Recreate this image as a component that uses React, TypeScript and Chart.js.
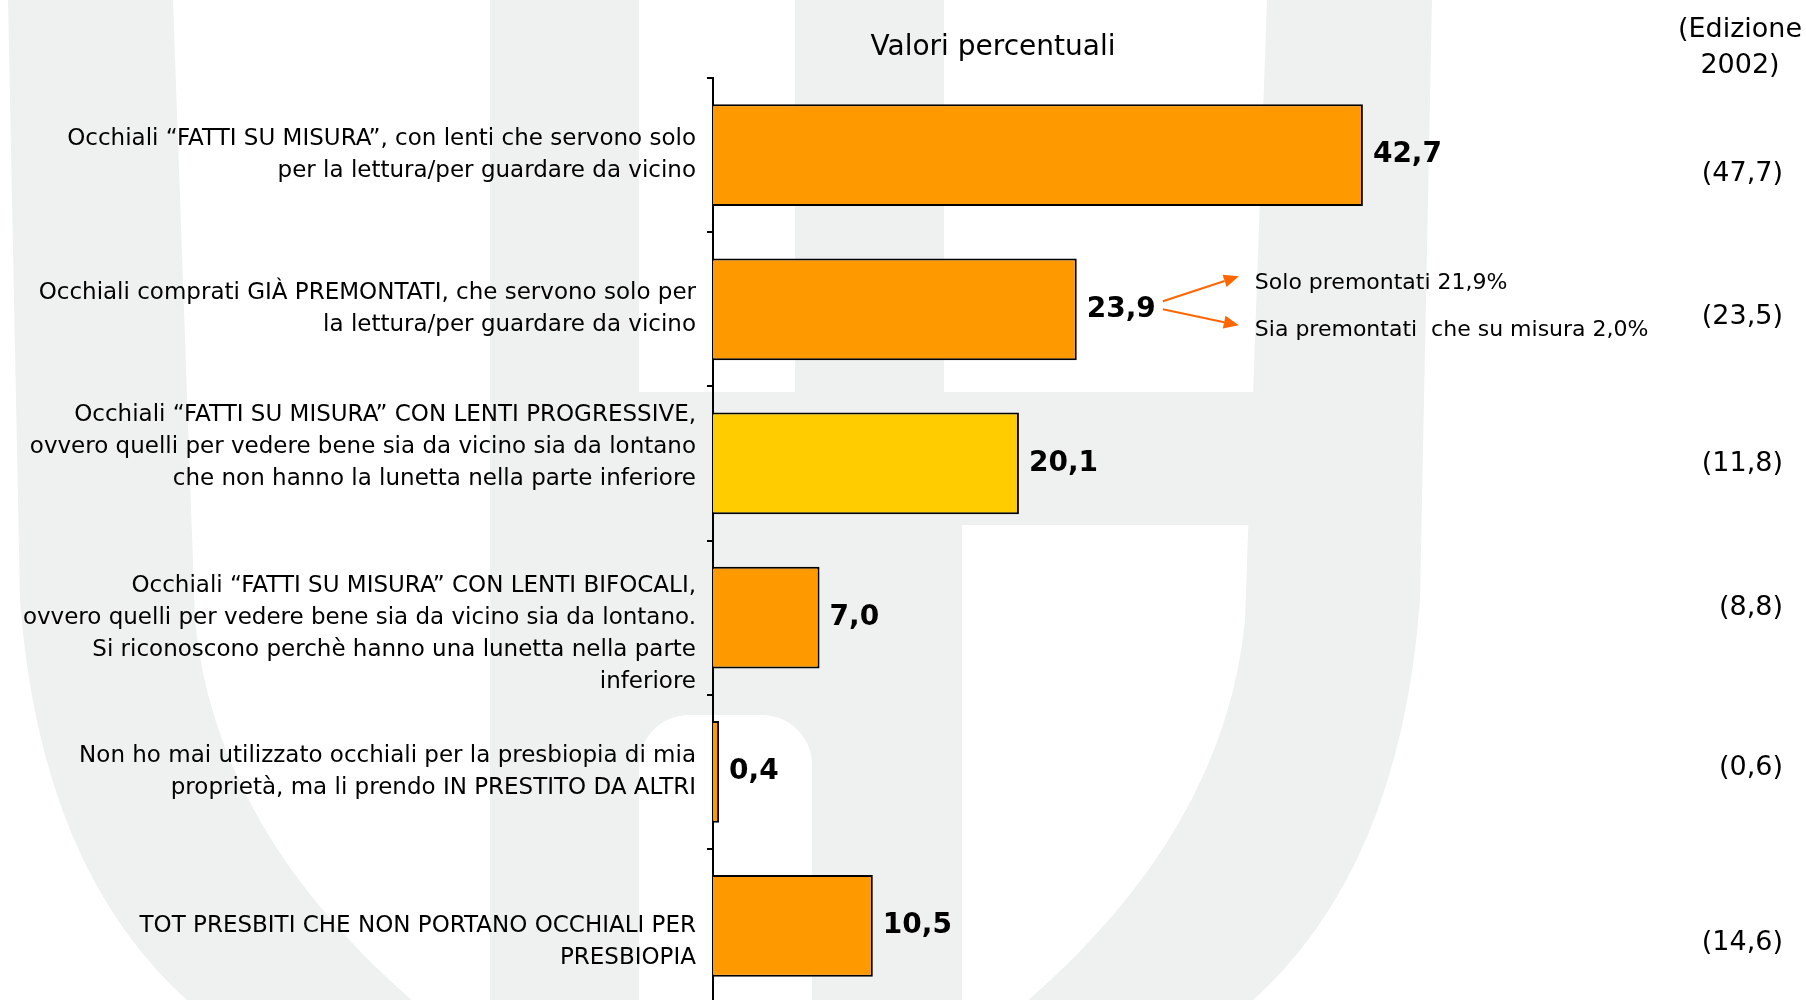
import { useEffect, useRef } from "react";
import { Chart, registerables } from "chart.js";

Chart.register(...registerables);

// ---------- data ----------
const categories: string[][] = [
  ["Occhiali “FATTI SU MISURA”, con lenti che servono solo", "per la lettura/per guardare da vicino"],
  ["Occhiali comprati GIÀ PREMONTATI, che servono solo per", "la lettura/per guardare da vicino"],
  [
    "Occhiali “FATTI SU MISURA” CON LENTI PROGRESSIVE,",
    "ovvero quelli per vedere bene sia da vicino sia da lontano",
    "che non hanno la lunetta nella parte inferiore",
    "",
  ],
  [
    "",
    "Occhiali “FATTI SU MISURA” CON LENTI BIFOCALI,",
    "ovvero quelli per vedere bene sia da vicino sia da lontano.",
    "Si riconoscono perchè hanno una lunetta nella parte",
    "inferiore",
  ],
  ["Non ho mai utilizzato occhiali per la presbiopia di mia", "proprietà, ma li prendo IN PRESTITO DA ALTRI"],
  ["", "TOT PRESBITI CHE NON PORTANO OCCHIALI PER", "PRESBIOPIA"],
];
const values = [42.7, 23.9, 20.1, 7.0, 0.4, 10.5];
const previousEdition = [47.7, 23.5, 11.8, 8.8, 0.6, 14.6];
const barColors = ["#FF9900", "#FF9900", "#FFCC00", "#FF9900", "#FF9900", "#FF9900"];
const breakdownIndex = 1;
const breakdownLabels = ["Solo premontati 21,9%", "Sia premontati  che su misura 2,0%"];
const titleText = "Valori percentuali";
const editionHeader = ["(Edizione", "2002)"];
// small vertical nudges of the previous-edition figures (px)
const previousEditionDy = [19, 8, 1, -10, -4, 17];

const FONT = "'DejaVu Sans', sans-serif";
const WATERMARK = "#eff0f0";
const ARROW = "#FF6600";

const fmt = (v: number) => v.toFixed(1).replace(".", ",");

const watermarkPlugin = {
  id: "watermark",
  beforeDraw(chart: any) {
    const ctx: CanvasRenderingContext2D = chart.ctx;
    ctx.save();
    ctx.fillStyle = WATERMARK;
    const band = (m: (x: number) => number) => {
      ctx.beginPath();
      ctx.moveTo(m(8), 0);
      ctx.lineTo(m(20), 600);
      ctx.quadraticCurveTo(m(40), 870, m(190), 1003);
      ctx.lineTo(m(415), 1003);
      ctx.quadraticCurveTo(m(215), 830, m(195), 620);
      ctx.lineTo(m(173), 0);
      ctx.closePath();
      ctx.fill();
    };
    band((x) => x);
    band((x) => 1440 - x);
    // vertical stem
    ctx.fillRect(490, 0, 149, 1003);
    // upper stem
    ctx.fillRect(795, 0, 149, 392);
    // horizontal bar
    ctx.fillRect(639, 392, 661, 133);
    // arch with hole
    ctx.beginPath();
    ctx.moveTo(639, 525);
    ctx.lineTo(962, 525);
    ctx.lineTo(962, 1003);
    ctx.lineTo(812, 1003);
    ctx.lineTo(812, 765);
    ctx.arcTo(812, 715, 762, 715, 50);
    ctx.lineTo(689, 715);
    ctx.arcTo(639, 715, 639, 765, 50);
    ctx.closePath();
    ctx.fill();
    ctx.restore();
  },
};

const annotationPlugin = {
  id: "annotations",
  afterDraw(chart: any) {
    const ctx: CanvasRenderingContext2D = chart.ctx;
    const meta = chart.getDatasetMeta(0);
    ctx.save();
    // value labels
    ctx.font = `bold 28px ${FONT}`;
    ctx.fillStyle = "#000";
    ctx.textAlign = "left";
    ctx.textBaseline = "middle";
    meta.data.forEach((bar: any, i: number) => {
      ctx.fillText(fmt(values[i]), bar.x + 10, bar.y);
    });

    // breakdown arrows for the pre-mounted glasses
    const b = meta.data[breakdownIndex];
    const w = ctx.measureText(fmt(values[breakdownIndex])).width;
    const sx = b.x + 10 + w + 7;
    const tipX = sx + 76;
    const arrow = (x0: number, y0: number, x1: number, y1: number) => {
      const ang = Math.atan2(y1 - y0, x1 - x0);
      const len = 15;
      const hw = 6.5;
      const bx = x1 - len * Math.cos(ang);
      const by = y1 - len * Math.sin(ang);
      ctx.strokeStyle = ARROW;
      ctx.fillStyle = ARROW;
      ctx.lineWidth = 2;
      ctx.beginPath();
      ctx.moveTo(x0, y0);
      ctx.lineTo(bx, by);
      ctx.stroke();
      ctx.beginPath();
      ctx.moveTo(x1, y1);
      ctx.lineTo(bx + hw * Math.sin(ang), by - hw * Math.cos(ang));
      ctx.lineTo(bx - hw * Math.sin(ang), by + hw * Math.cos(ang));
      ctx.closePath();
      ctx.fill();
    };
    arrow(sx, b.y - 8, tipX, b.y - 33);
    arrow(sx, b.y, tipX, b.y + 16);
    ctx.fillStyle = "#000";
    ctx.font = `22px ${FONT}`;
    ctx.textAlign = "left";
    ctx.fillText(breakdownLabels[0], tipX + 16, b.y - 26);
    ctx.fillText(breakdownLabels[1], tipX + 16, b.y + 21);

    // title
    ctx.font = `28px ${FONT}`;
    ctx.textAlign = "center";
    ctx.fillText(titleText, 993, 48);

    // previous edition column
    ctx.font = `27px ${FONT}`;
    ctx.textAlign = "center";
    ctx.fillText(editionHeader[0], 1740, 30);
    ctx.fillText(editionHeader[1], 1740, 66);
    ctx.textAlign = "right";
    meta.data.forEach((bar: any, i: number) => {
      ctx.fillText(`(${fmt(previousEdition[i])})`, 1783, bar.y + previousEditionDy[i]);
    });
    ctx.restore();
  },
};

export default function App() {
  const ref = useRef<HTMLCanvasElement>(null);
  useEffect(() => {
    const canvas = ref.current!;
    const chart = new Chart(canvas, {
      type: "bar",
      data: {
        labels: categories,
        datasets: [
          {
            data: values,
            backgroundColor: barColors,
            borderColor: "#000",
            borderWidth: 2,
            categoryPercentage: 1,
            barPercentage: 0.66,
          },
        ],
      },
      options: {
        indexAxis: "y",
        responsive: false,
        animation: false,
        devicePixelRatio: 1,
        layout: { padding: { top: 78, right: 332, bottom: 0, left: 0 } },
        plugins: { legend: { display: false }, tooltip: { enabled: false } },
        scales: {
          x: { display: false, min: 0, max: 50 },
          y: {
            afterFit: (scale: any) => {
              scale.width = 713;
              scale.paddingTop = 0;
              scale.paddingBottom = 0;
            },
            grid: {
              drawOnChartArea: false,
              drawTicks: true,
              tickLength: 6,
              color: "#000",
              lineWidth: 2,
            },
            border: { display: true, color: "#000", width: 2 },
            ticks: {
              padding: 11,
              color: "#000",
              autoSkip: false,
              font: { family: FONT, size: 23, lineHeight: 32 / 23 },
            },
          },
        },
      },
      plugins: [watermarkPlugin, annotationPlugin],
    } as any);
    return () => chart.destroy();
  }, []);
  return (
    <div
      style={{
        position: "fixed",
        left: 0,
        top: 0,
        width: 1806,
        height: 1000,
        overflow: "hidden",
        background: "#fff",
      }}
    >
      <canvas ref={ref} width={1806} height={1003} style={{ display: "block", width: 1806, height: 1003 }} />
    </div>
  );
}
